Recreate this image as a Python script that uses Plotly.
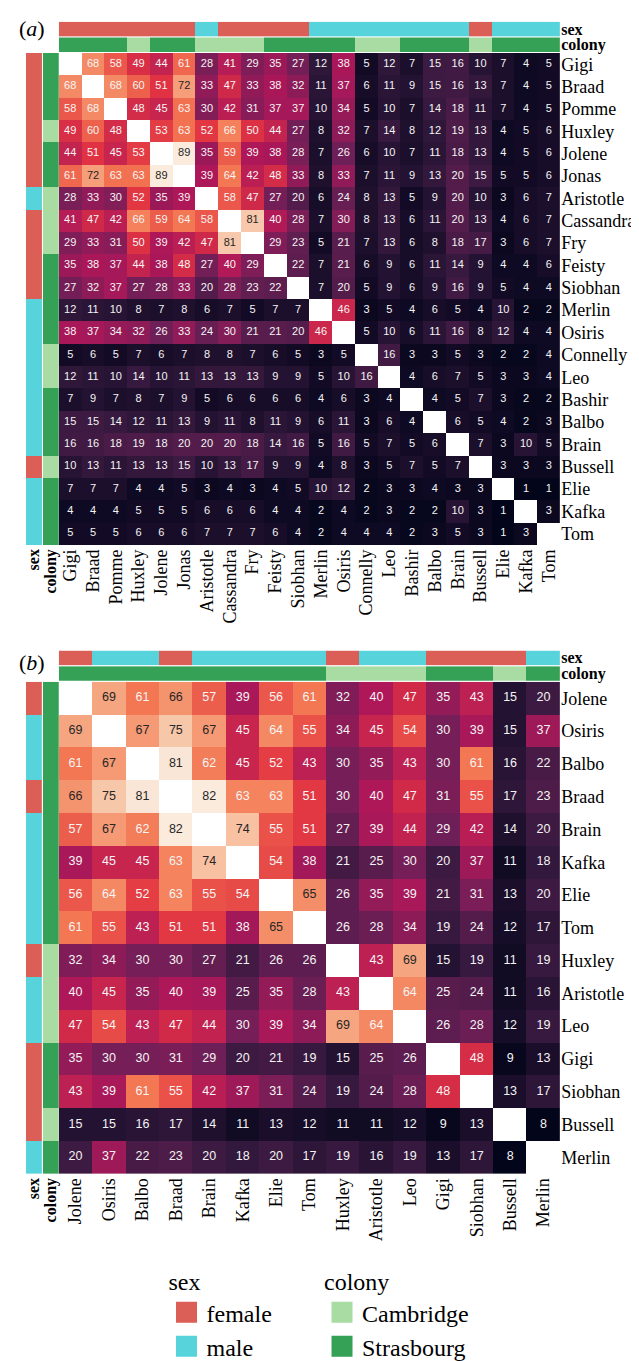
import plotly.graph_objects as go

W, H = 639, 1361
SERIF = "Liberation Serif, Times New Roman, Times, serif"
SANS = "Liberation Sans, Arial, sans-serif"

# ---------------- data ----------------
names_a = ["Gigi", "Braad", "Pomme", "Huxley", "Jolene", "Jonas", "Aristotle", "Cassandra",
           "Fry", "Feisty", "Siobhan", "Merlin", "Osiris", "Connelly", "Leo", "Bashir",
           "Balbo", "Brain", "Bussell", "Elie", "Kafka", "Tom"]
N = None
vals_a = [
    [N, 68, 58, 49, 44, 61, 28, 41, 29, 35, 27, 12, 38, 5, 12, 7, 15, 16, 10, 7, 4, 5],
    [68, N, 68, 60, 51, 72, 33, 47, 33, 38, 32, 11, 37, 6, 11, 9, 15, 16, 13, 7, 4, 5],
    [58, 68, N, 48, 45, 63, 30, 42, 31, 37, 37, 10, 34, 5, 10, 7, 14, 18, 11, 7, 4, 5],
    [49, 60, 48, N, 53, 63, 52, 66, 50, 44, 27, 8, 32, 7, 14, 8, 12, 19, 13, 4, 5, 6],
    [44, 51, 45, 53, N, 89, 35, 59, 39, 38, 28, 7, 26, 6, 10, 7, 11, 18, 13, 4, 5, 6],
    [61, 72, 63, 63, 89, N, 39, 64, 42, 48, 33, 8, 33, 7, 11, 9, 13, 20, 15, 5, 5, 6],
    [28, 33, 30, 52, 35, 39, N, 58, 47, 27, 20, 6, 24, 8, 13, 5, 9, 20, 10, 3, 6, 7],
    [41, 47, 42, 66, 59, 64, 58, N, 81, 40, 28, 7, 30, 8, 13, 6, 11, 20, 13, 4, 6, 7],
    [29, 33, 31, 50, 39, 42, 47, 81, N, 29, 23, 5, 21, 7, 13, 6, 8, 18, 17, 3, 6, 7],
    [35, 38, 37, 44, 38, 48, 27, 40, 29, N, 22, 7, 21, 6, 9, 6, 11, 14, 9, 4, 4, 6],
    [27, 32, 37, 27, 28, 33, 20, 28, 23, 22, N, 7, 20, 5, 9, 6, 9, 16, 9, 5, 4, 4],
    [12, 11, 10, 8, 7, 8, 6, 7, 5, 7, 7, N, 46, 3, 5, 4, 6, 5, 4, 10, 2, 2],
    [38, 37, 34, 32, 26, 33, 24, 30, 21, 21, 20, 46, N, 5, 10, 6, 11, 16, 8, 12, 4, 4],
    [5, 6, 5, 7, 6, 7, 8, 8, 7, 6, 5, 3, 5, N, 16, 3, 3, 5, 3, 2, 2, 4],
    [12, 11, 10, 14, 10, 11, 13, 13, 13, 9, 9, 5, 10, 16, N, 4, 6, 7, 5, 3, 3, 4],
    [7, 9, 7, 8, 7, 9, 5, 6, 6, 6, 6, 4, 6, 3, 4, N, 4, 5, 7, 3, 2, 2],
    [15, 15, 14, 12, 11, 13, 9, 11, 8, 11, 9, 6, 11, 3, 6, 4, N, 6, 5, 4, 2, 3],
    [16, 16, 18, 19, 18, 20, 20, 20, 18, 14, 16, 5, 16, 5, 7, 5, 6, N, 7, 3, 10, 5],
    [10, 13, 11, 13, 13, 15, 10, 13, 17, 9, 9, 4, 8, 3, 5, 7, 5, 7, N, 3, 3, 3],
    [7, 7, 7, 4, 4, 5, 3, 4, 3, 4, 5, 10, 12, 2, 3, 3, 4, 3, 3, N, 1, 1],
    [4, 4, 4, 5, 5, 5, 6, 6, 6, 4, 4, 2, 4, 2, 3, 2, 2, 10, 3, 1, N, 3],
    [5, 5, 5, 6, 6, 6, 7, 7, 7, 6, 4, 2, 4, 4, 4, 2, 3, 5, 3, 1, 3, N],
]
sex_a = ["female", "female", "female", "female", "female", "female", "male", "female",
         "female", "female", "female", "male", "male", "male", "male", "male",
         "male", "male", "female", "male", "male", "male"]
colony_a = ["Strasbourg", "Strasbourg", "Strasbourg", "Cambridge", "Strasbourg", "Strasbourg",
            "Cambridge", "Cambridge", "Cambridge", "Strasbourg", "Strasbourg", "Strasbourg",
            "Strasbourg", "Cambridge", "Cambridge", "Strasbourg", "Strasbourg", "Strasbourg",
            "Cambridge", "Strasbourg", "Strasbourg", "Strasbourg"]

names_b = ["Jolene", "Osiris", "Balbo", "Braad", "Brain", "Kafka", "Elie", "Tom",
           "Huxley", "Aristotle", "Leo", "Gigi", "Siobhan", "Bussell", "Merlin"]
vals_b = [
    [N, 69, 61, 66, 57, 39, 56, 61, 32, 40, 47, 35, 43, 15, 20],
    [69, N, 67, 75, 67, 45, 64, 55, 34, 45, 54, 30, 39, 15, 37],
    [61, 67, N, 81, 62, 45, 52, 43, 30, 35, 43, 30, 61, 16, 22],
    [66, 75, 81, N, 82, 63, 63, 51, 30, 40, 47, 31, 55, 17, 23],
    [57, 67, 62, 82, N, 74, 55, 51, 27, 39, 44, 29, 42, 14, 20],
    [39, 45, 45, 63, 74, N, 54, 38, 21, 25, 30, 20, 37, 11, 18],
    [56, 64, 52, 63, 55, 54, N, 65, 26, 35, 39, 21, 31, 13, 20],
    [61, 55, 43, 51, 51, 38, 65, N, 26, 28, 34, 19, 24, 12, 17],
    [32, 34, 30, 30, 27, 21, 26, 26, N, 43, 69, 15, 19, 11, 19],
    [40, 45, 35, 40, 39, 25, 35, 28, 43, N, 64, 25, 24, 11, 16],
    [47, 54, 43, 47, 44, 30, 39, 34, 69, 64, N, 26, 28, 12, 19],
    [35, 30, 30, 31, 29, 20, 21, 19, 15, 25, 26, N, 48, 9, 13],
    [43, 39, 61, 55, 42, 37, 31, 24, 19, 24, 28, 48, N, 13, 17],
    [15, 15, 16, 17, 14, 11, 13, 12, 11, 11, 12, 9, 13, N, 8],
    [20, 37, 22, 23, 20, 18, 20, 17, 19, 16, 19, 13, 17, 8, N],
]
sex_b = ["female", "male", "male", "female", "male", "male", "male", "male",
         "female", "male", "male", "female", "female", "female", "male"]
colony_b = ["Strasbourg"] * 8 + ["Cambridge", "Cambridge", "Cambridge",
                                 "Strasbourg", "Strasbourg", "Cambridge", "Strasbourg"]

sex_levels = ["female", "male"]
colony_levels = ["Cambridge", "Strasbourg"]

# ---------------- styles ----------------
SEX_COLORS = {"female": "#db5f57", "male": "#57d3db"}
COLONY_COLORS = {"Cambridge": "#a8dca3", "Strasbourg": "#35a157"}
ROCKET = [[0.0, "#03051a"], [1 / 7, "#35193e"], [2 / 7, "#701f57"], [3 / 7, "#ad1759"],
          [4 / 7, "#e13342"], [5 / 7, "#f37651"], [6 / 7, "#f6b48f"], [1.0, "#faebdd"]]

GRID_X0, GRID_X1 = 50, 553
GRID_SIZE = GRID_X1 - GRID_X0


def xd(a, b):
    return [a / W, b / W]


def yd(top, bottom):
    return [1 - bottom / H, 1 - top / H]


def two_colour_scale(c0, c1):
    return [[0, c0], [0.5, c0], [0.5, c1], [1, c1]]


fig = go.Figure()
layout = {}


def add_panel(k, names, vals, sex, colony, grid_top, cell_font):
    n = len(names)
    grid_bottom = grid_top + GRID_SIZE
    flat = [v for row in vals for v in row if v is not None]
    zmin, zmax = min(flat), max(flat)
    ax = lambda i: ("x" if i == 1 else f"x{i}", "y" if i == 1 else f"y{i}")
    lk = lambda i: ("xaxis" if i == 1 else f"xaxis{i}", "yaxis" if i == 1 else f"yaxis{i}")

    tickfont = dict(family=SERIF, size=18, color="black")
    boldfont = dict(family=SERIF, size=16, color="black")
    common = dict(showgrid=False, zeroline=False, showline=False, ticks="", fixedrange=True)
    cat_x = dict(type="category", categoryorder="array", categoryarray=names, range=[-0.5, n - 0.5])
    cat_y = dict(type="category", categoryorder="array", categoryarray=names, range=[n - 0.5, -0.5])

    # main heatmap
    xa, ya = ax(k)
    fig.add_trace(go.Heatmap(z=vals, x=names, y=names, colorscale=ROCKET, zmin=zmin, zmax=zmax,
                             showscale=False, xaxis=xa, yaxis=ya, hoverongaps=False))
    tx, ty, tt, tc = [], [], [], []
    for i, row in enumerate(vals):
        for j, v in enumerate(row):
            if v is None:
                continue
            t = (v - zmin) / (zmax - zmin)
            tx.append(names[j]); ty.append(names[i]); tt.append(str(v))
            tc.append("#262626" if t > 0.765 else "#f4f4f4")
    fig.add_trace(go.Scatter(x=tx, y=ty, text=tt, mode="text", xaxis=xa, yaxis=ya,
                             textfont=dict(family=SANS, size=cell_font, color=tc),
                             hoverinfo="skip", showlegend=False))
    lx, ly = lk(k)
    layout[lx] = dict(domain=xd(GRID_X0, GRID_X1), anchor=ya, tickangle=-90, tickfont=tickfont,
                      **cat_x, **common)
    layout[ly] = dict(domain=yd(grid_top, grid_bottom), anchor=xa, side="right", tickfont=tickfont,
                      ticklabelstandoff=0, **cat_y, **common)

    # top bars (sex, colony)
    bars = [("sex", sex, sex_levels, SEX_COLORS), ("colony", colony, colony_levels, COLONY_COLORS)]
    for b, (label, codes, levels, cmap) in enumerate(bars):
        i = k + 1 + b
        xa, ya = ax(i)
        lx, ly = lk(i)
        top = grid_top - 32 + 16 * b
        z = [[levels.index(c) for c in codes]]
        fig.add_trace(go.Heatmap(z=z, x=names, y=[0], colorscale=two_colour_scale(cmap[levels[0]], cmap[levels[1]]),
                                 zmin=0, zmax=1, showscale=False, xaxis=xa, yaxis=ya,
                                 text=[codes], hovertemplate="%{x}: %{text}<extra></extra>"))
        layout[lx] = dict(domain=xd(GRID_X0, GRID_X1), anchor=ya, showticklabels=False, **cat_x, **common)
        layout[ly] = dict(domain=yd(top, top + 15), anchor=xa, side="right", range=[-0.5, 0.5],
                          tickmode="array", tickvals=[0], ticktext=[f"<b>{label}</b>"],
                          tickfont=boldfont, ticklabelstandoff=0, **common)

    # left bars (sex, colony)
    for b, (label, codes, levels, cmap) in enumerate(bars):
        i = k + 3 + b
        xa, ya = ax(i)
        lx, ly = lk(i)
        left = 17 + 17 * b
        z = [[levels.index(c)] for c in codes]
        fig.add_trace(go.Heatmap(z=z, x=[0], y=names, colorscale=two_colour_scale(cmap[levels[0]], cmap[levels[1]]),
                                 zmin=0, zmax=1, showscale=False, xaxis=xa, yaxis=ya,
                                 text=[[c] for c in codes], hovertemplate="%{y}: %{text}<extra></extra>"))
        layout[lx] = dict(domain=xd(left, left + 16), anchor=ya, range=[-0.5, 0.5], tickmode="array",
                          tickvals=[0], ticktext=[f"<b>{label}</b>"], tickangle=-90, tickfont=boldfont,
                          **common)
        layout[ly] = dict(domain=yd(grid_top, grid_bottom), anchor=xa, showticklabels=False,
                          **cat_y, **common)


add_panel(1, names_a, vals_a, sex_a, colony_a, 45, 11)
add_panel(6, names_b, vals_b, sex_b, colony_b, 688, 12.5)

# legend entries
for s in sex_levels:
    fig.add_trace(go.Scatter(x=[None], y=[None], mode="markers", name=s, legend="legend",
                             marker=dict(symbol="square", size=16, color=SEX_COLORS[s],
                                         line=dict(color=SEX_COLORS[s], width=5)),
                             xaxis="x", yaxis="y"))
for c in colony_levels:
    fig.add_trace(go.Scatter(x=[None], y=[None], mode="markers", name=c, legend="legend2",
                             marker=dict(symbol="square", size=16, color=COLONY_COLORS[c],
                                         line=dict(color=COLONY_COLORS[c], width=5)),
                             xaxis="x", yaxis="y"))

LEGEND_FONT = dict(family=SERIF, size=24, color="black")
legend_common = dict(yanchor="top", xanchor="left", y=1 - 1278 / H, bgcolor="rgba(0,0,0,0)",
                     font=LEGEND_FONT, itemsizing="trace", tracegroupgap=0)
layout["legend"] = dict(x=158 / W, title=dict(text="sex", font=LEGEND_FONT), **legend_common)
layout["legend2"] = dict(x=314 / W, title=dict(text="colony", font=LEGEND_FONT), **legend_common)

fig.update_layout(**layout)
fig.update_layout(
    width=W, height=H, margin=dict(l=0, r=0, t=0, b=0),
    paper_bgcolor="white", plot_bgcolor="white", showlegend=True,
    annotations=[
        dict(text="(<i>a</i>)", x=8 / W, y=1 - 20 / H, xref="paper", yref="paper", xanchor="left",
             yanchor="middle", showarrow=False, font=dict(family=SERIF, size=22, color="black")),
        dict(text="(<i>b</i>)", x=8 / W, y=1 - 668 / H, xref="paper", yref="paper", xanchor="left",
             yanchor="middle", showarrow=False, font=dict(family=SERIF, size=22, color="black")),
    ],
)

fig.write_html("out.html")
